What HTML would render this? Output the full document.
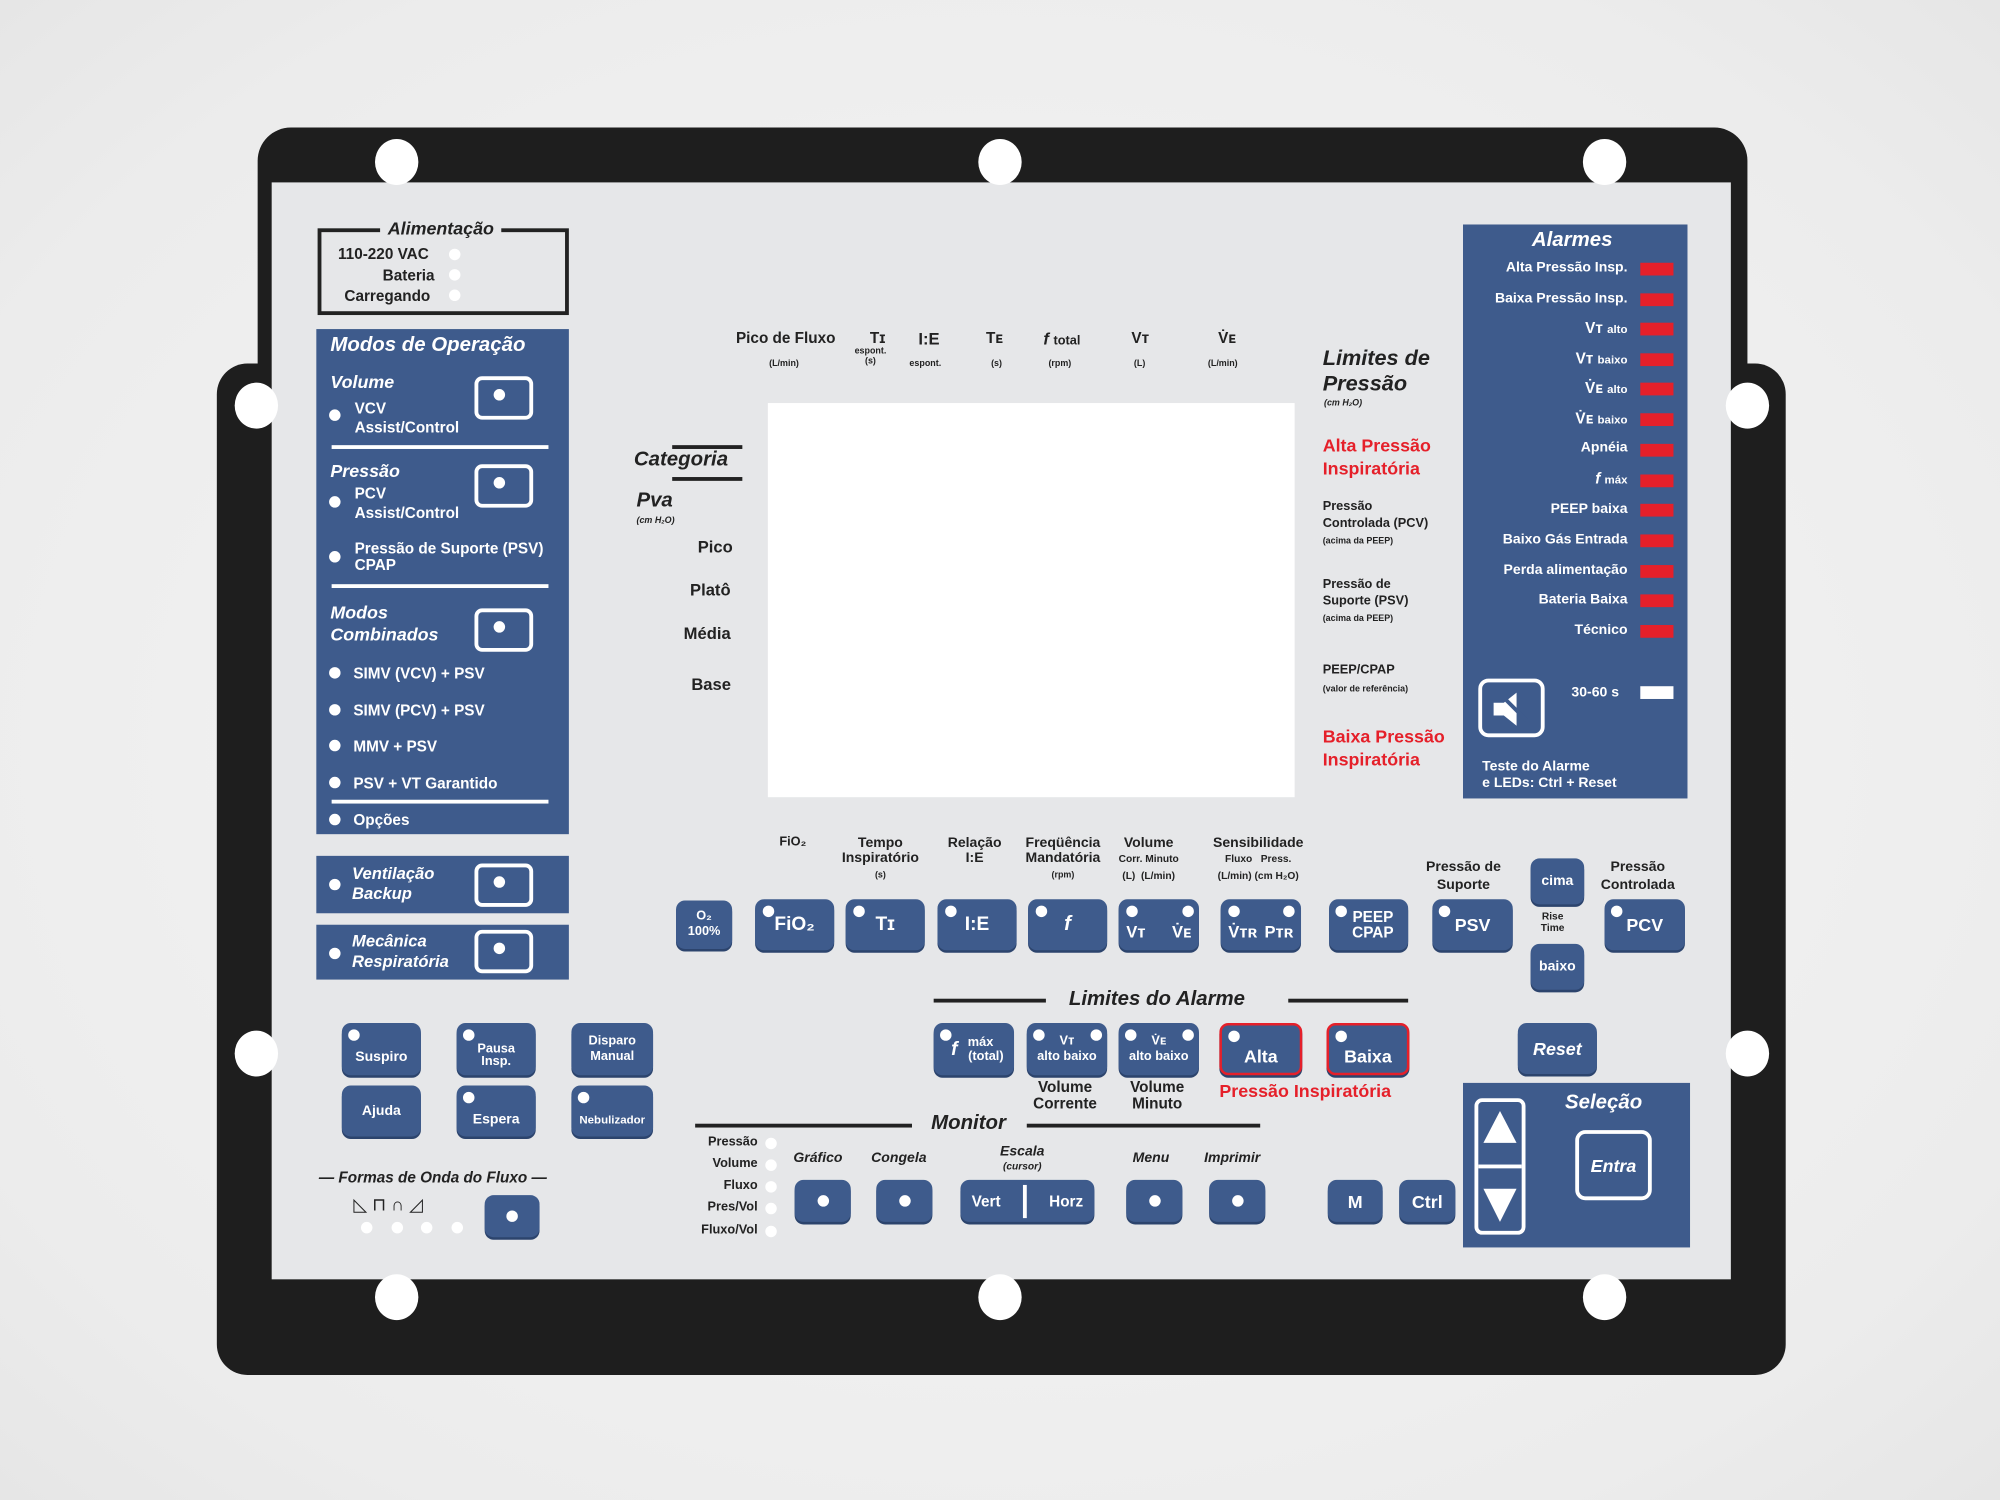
<!DOCTYPE html>
<html><head><meta charset="utf-8"><style>
html,body{margin:0;padding:0;width:2000px;height:1500px;overflow:hidden;background:radial-gradient(ellipse at center,#f7f7f7 0%,#ececec 80%,#e6e6e6 100%);}
#w{position:absolute;left:0;top:0;width:1568px;height:1176px;transform:scale(1.2755);transform-origin:0 0;font-family:"Liberation Sans",sans-serif;font-weight:bold;color:#222;}
.a{position:absolute;}
.blk{position:absolute;background:#1e1e1e;}
.hole{position:absolute;width:34px;height:36px;border-radius:50%;background:#fff;margin:-18px 0 0 -17px;}
.blue{position:absolute;background:#3e5b8c;}
.b{position:absolute;background:#3e5b8c;border-radius:7px;color:#fff;display:flex;align-items:center;justify-content:center;text-align:center;font-size:13px;line-height:12px;box-shadow:0 2px 0 #2c446d;}
.d{position:absolute;width:9px;height:9px;border-radius:50%;background:#fff;}
.sb{position:absolute;width:38px;height:28px;border:3px solid #fff;border-radius:6px;box-sizing:border-box;}
.sb::after{content:"";position:absolute;left:12px;top:7px;width:9px;height:9px;border-radius:50%;background:#fff;}
.t{position:absolute;white-space:nowrap;}
.w{color:#fff;}
.i{font-style:italic;}
.r{color:#e5202a;}
.led{position:absolute;width:26px;height:10px;background:#e5202a;}
.line{position:absolute;background:#222;height:3px;}
</style></head><body><div id="w">
<!-- frame -->
<div class="blk" style="left:202px;top:100px;width:1168px;height:300px;border-radius:26px 26px 0 0;"></div>
<div class="blk" style="left:170px;top:285px;width:1230px;height:793px;border-radius:24px;"></div>
<div class="a" style="left:213px;top:143px;width:1144px;height:860px;background:#e6e7e9;"></div>
<div class="hole" style="left:311px;top:127px"></div><div class="hole" style="left:784px;top:127px"></div><div class="hole" style="left:1258px;top:127px"></div>
<div class="hole" style="left:201px;top:318px"></div><div class="hole" style="left:1370px;top:318px"></div>
<div class="hole" style="left:201px;top:826px"></div><div class="hole" style="left:1370px;top:826px"></div>
<div class="hole" style="left:311px;top:1017px"></div><div class="hole" style="left:784px;top:1017px"></div><div class="hole" style="left:1258px;top:1017px"></div>

<!-- Alimentacao -->
<div class="a" style="left:249px;top:179px;width:197px;height:68px;border:3px solid #222;box-sizing:border-box;"></div>
<div class="t i" style="left:298px;top:171px;background:#e6e7e9;padding:0 6px;font-size:14px;">Alimentação</div>
<div class="t" style="left:265px;top:192px;font-size:12px;">110-220 VAC</div>
<div class="t" style="left:300px;top:209px;font-size:12px;">Bateria</div>
<div class="t" style="left:270px;top:225px;font-size:12px;">Carregando</div>
<div class="d" style="left:352px;top:195px"></div><div class="d" style="left:352px;top:211px"></div><div class="d" style="left:352px;top:227px"></div>

<!-- Modos -->
<div class="blue" style="left:248px;top:258px;width:198px;height:396px;"></div>
<div class="t w i" style="left:259px;top:262px;font-size:16px;">Modos de Operação</div>
<div class="t w i" style="left:259px;top:291px;font-size:14px;">Volume</div>
<div class="sb" style="left:372px;top:295px;width:46px;height:34px"></div>
<div class="d" style="left:258px;top:321px"></div>
<div class="t w" style="left:278px;top:313px;font-size:12px;line-height:15px;">VCV<br>Assist/Control</div>
<div class="a" style="left:260px;top:349px;width:170px;height:3px;background:#fff"></div>
<div class="t w i" style="left:259px;top:361px;font-size:14px;">Pressão</div>
<div class="sb" style="left:372px;top:364px;width:46px;height:34px"></div>
<div class="d" style="left:258px;top:389px"></div>
<div class="t w" style="left:278px;top:380px;font-size:12px;line-height:15px;">PCV<br>Assist/Control</div>
<div class="d" style="left:258px;top:432px"></div>
<div class="t w" style="left:278px;top:424px;font-size:12px;line-height:13px;">Pressão de Suporte (PSV)<br>CPAP</div>
<div class="a" style="left:260px;top:458px;width:170px;height:3px;background:#fff"></div>
<div class="t w i" style="left:259px;top:472px;font-size:14px;line-height:17px;">Modos<br>Combinados</div>
<div class="sb" style="left:372px;top:477px;width:46px;height:34px"></div>
<div class="d" style="left:258px;top:523px"></div><div class="t w" style="left:277px;top:521px;font-size:12px;">SIMV (VCV) + PSV</div>
<div class="d" style="left:258px;top:552px"></div><div class="t w" style="left:277px;top:550px;font-size:12px;">SIMV (PCV) + PSV</div>
<div class="d" style="left:258px;top:580px"></div><div class="t w" style="left:277px;top:578px;font-size:12px;">MMV + PSV</div>
<div class="d" style="left:258px;top:609px"></div><div class="t w" style="left:277px;top:607px;font-size:12px;">PSV + VT Garantido</div>
<div class="a" style="left:260px;top:627px;width:170px;height:3px;background:#fff"></div>
<div class="d" style="left:258px;top:638px"></div><div class="t w" style="left:277px;top:636px;font-size:12px;">Opções</div>

<div class="blue" style="left:248px;top:671px;width:198px;height:45px;"></div>
<div class="d" style="left:258px;top:689px"></div>
<div class="t w i" style="left:276px;top:677px;font-size:13px;line-height:16px;">Ventilação<br>Backup</div>
<div class="sb" style="left:372px;top:677px;width:46px;height:34px"></div>
<div class="blue" style="left:248px;top:725px;width:198px;height:43px;"></div>
<div class="d" style="left:258px;top:743px"></div>
<div class="t w i" style="left:276px;top:730px;font-size:13px;line-height:16px;">Mecânica<br>Respiratória</div>
<div class="sb" style="left:372px;top:729px;width:46px;height:34px"></div>

<!-- screen header -->
<div class="t" style="left:577px;top:258px;font-size:12px;">Pico de Fluxo</div>
<div class="t" style="left:603px;top:282px;font-size:7px;">(L/min)</div>
<div class="t" style="left:682px;top:258px;font-size:12px;">Tɪ</div>
<div class="t" style="left:670px;top:272px;font-size:7px;line-height:8px;text-align:center;">espont.<br>(s)</div>
<div class="t" style="left:720px;top:258px;font-size:13px;">I:E</div>
<div class="t" style="left:713px;top:282px;font-size:7px;">espont.</div>
<div class="t" style="left:773px;top:258px;font-size:12px;">Tᴇ</div>
<div class="t" style="left:777px;top:282px;font-size:7px;">(s)</div>
<div class="t i" style="left:818px;top:258px;font-size:13px;">f <span style="font-size:10px;font-style:normal">total</span></div>
<div class="t" style="left:822px;top:282px;font-size:7px;">(rpm)</div>
<div class="t" style="left:887px;top:258px;font-size:12px;">Vᴛ</div>
<div class="t" style="left:889px;top:282px;font-size:7px;">(L)</div>
<div class="t" style="left:955px;top:258px;font-size:12px;">V̇ᴇ</div>
<div class="t" style="left:947px;top:282px;font-size:7px;">(L/min)</div>
<div class="a" style="left:602px;top:316px;width:413px;height:309px;background:#fff;"></div>

<div class="line" style="left:527px;top:349px;width:55px;"></div>
<div class="t i" style="left:497px;top:352px;font-size:16px;">Categoria</div>
<div class="line" style="left:527px;top:374px;width:55px;"></div>
<div class="t i" style="left:499px;top:384px;font-size:16px;">Pva</div>
<div class="t i" style="left:499px;top:405px;font-size:7px;">(cm H₂O)</div>
<div class="t" style="left:547px;top:421px;font-size:13px;">Pico</div>
<div class="t" style="left:541px;top:455px;font-size:13px;">Platô</div>
<div class="t" style="left:536px;top:489px;font-size:13px;">Média</div>
<div class="t" style="left:542px;top:529px;font-size:13px;">Base</div>

<!-- Limites de Pressao -->
<div class="t i" style="left:1037px;top:271px;font-size:17px;line-height:20px;">Limites de<br>Pressão</div>
<div class="t i" style="left:1038px;top:313px;font-size:7px;">(cm H₂O)</div>
<div class="t r" style="left:1037px;top:340px;font-size:14px;line-height:18px;">Alta Pressão<br>Inspiratória</div>
<div class="t" style="left:1037px;top:391px;font-size:10px;line-height:13px;">Pressão<br>Controlada (PCV)<br><span style="font-size:7px">(acima da PEEP)</span></div>
<div class="t" style="left:1037px;top:452px;font-size:10px;line-height:13px;">Pressão de<br>Suporte (PSV)<br><span style="font-size:7px">(acima da PEEP)</span></div>
<div class="t" style="left:1037px;top:519px;font-size:10px;line-height:14px;">PEEP/CPAP<br><span style="font-size:7px">(valor de referência)</span></div>
<div class="t r" style="left:1037px;top:568px;font-size:14px;line-height:18px;">Baixa Pressão<br>Inspiratória</div>

<!-- Alarmes -->
<div class="blue" style="left:1147px;top:176px;width:176px;height:450px;"></div>
<div class="t w i" style="left:1201px;top:180px;font-size:16px;">Alarmes</div>
<div class="t w" style="right:292px;top:204px;font-size:11px;">Alta Pressão Insp.</div>
<div class="t w" style="right:292px;top:228px;font-size:11px;">Baixa Pressão Insp.</div>
<div class="t w" style="right:292px;top:250px;font-size:12px;">Vᴛ <span style="font-size:9px">alto</span></div>
<div class="t w" style="right:292px;top:274px;font-size:12px;">Vᴛ <span style="font-size:9px">baixo</span></div>
<div class="t w" style="right:292px;top:297px;font-size:12px;">V̇ᴇ <span style="font-size:9px">alto</span></div>
<div class="t w" style="right:292px;top:321px;font-size:12px;">V̇ᴇ <span style="font-size:9px">baixo</span></div>
<div class="t w" style="right:292px;top:345px;font-size:11px;">Apnéia</div>
<div class="t w" style="right:292px;top:368px;font-size:12px;"><i>f</i> <span style="font-size:9px">máx</span></div>
<div class="t w" style="right:292px;top:393px;font-size:11px;">PEEP baixa</div>
<div class="t w" style="right:292px;top:417px;font-size:11px;">Baixo Gás Entrada</div>
<div class="t w" style="right:292px;top:441px;font-size:11px;">Perda alimentação</div>
<div class="t w" style="right:292px;top:464px;font-size:11px;">Bateria Baixa</div>
<div class="t w" style="right:292px;top:488px;font-size:11px;">Técnico</div>
<div class="led" style="left:1286px;top:206px"></div><div class="led" style="left:1286px;top:230px"></div><div class="led" style="left:1286px;top:253px"></div><div class="led" style="left:1286px;top:277px"></div><div class="led" style="left:1286px;top:300px"></div><div class="led" style="left:1286px;top:324px"></div><div class="led" style="left:1286px;top:348px"></div><div class="led" style="left:1286px;top:372px"></div><div class="led" style="left:1286px;top:395px"></div><div class="led" style="left:1286px;top:419px"></div><div class="led" style="left:1286px;top:443px"></div><div class="led" style="left:1286px;top:466px"></div><div class="led" style="left:1286px;top:490px"></div>
<div class="a" style="left:1286px;top:538px;width:26px;height:10px;background:#fff"></div>
<div class="t w" style="left:1232px;top:537px;font-size:11px;">30-60 s</div>
<div class="a" style="left:1159px;top:532px;width:52px;height:46px;border:3px solid #fff;border-radius:8px;box-sizing:border-box;"></div>
<svg class="a" style="left:1167px;top:540px" width="38" height="32"><polygon points="4,11 12,11 22,3 22,29 12,21 4,21" fill="#fff"/><line x1="14" y1="9" x2="30" y2="25" stroke="#3e5b8c" stroke-width="3"/></svg>
<div class="t w" style="left:1162px;top:595px;font-size:11px;line-height:13px;">Teste do Alarme<br>e LEDs: Ctrl + Reset</div>

<!-- parameter labels -->
<div class="t" style="left:611px;top:655px;font-size:10px;">FiO₂</div>
<div class="t" style="left:660px;top:655px;font-size:11px;line-height:12px;text-align:center;">Tempo<br>Inspiratório<br><span style="font-size:7px">(s)</span></div>
<div class="t" style="left:743px;top:655px;font-size:11px;line-height:12px;text-align:center;">Relação<br>I:E</div>
<div class="t" style="left:804px;top:655px;font-size:11px;line-height:12px;text-align:center;">Freqüência<br>Mandatória<br><span style="font-size:7px">(rpm)</span></div>
<div class="t" style="left:877px;top:655px;font-size:11px;line-height:12px;text-align:center;">Volume<br><span style="font-size:8px">Corr. Minuto<br>(L) &nbsp;(L/min)</span></div>
<div class="t" style="left:951px;top:655px;font-size:11px;line-height:12px;text-align:center;">Sensibilidade<br><span style="font-size:8px">Fluxo &nbsp; Press.<br>(L/min) (cm H₂O)</span></div>
<div class="t" style="left:1118px;top:673px;font-size:11px;line-height:14px;text-align:center;">Pressão de<br>Suporte</div>
<div class="t" style="left:1255px;top:673px;font-size:11px;line-height:14px;text-align:center;">Pressão<br>Controlada</div>
<div class="t" style="left:1208px;top:714px;font-size:8px;line-height:9px;text-align:center;">Rise<br>Time</div>

<div class="b" style="left:530px;top:706px;width:44px;height:38px;font-size:10px;line-height:12px;">O₂<br>100%</div>
<div class="b" style="left:592px;top:705px;width:62px;height:40px;font-size:15px;">FiO₂</div>
<div class="b" style="left:663px;top:705px;width:62px;height:40px;font-size:15px;">Tɪ</div>
<div class="b" style="left:735px;top:705px;width:62px;height:40px;font-size:15px;">I:E</div>
<div class="b" style="left:806px;top:705px;width:62px;height:40px;font-size:16px;font-style:italic;">f</div>
<div class="b" style="left:877px;top:705px;width:63px;height:40px;font-size:13px;justify-content:space-between;padding:12px 6px 0;box-sizing:border-box;"><span>Vᴛ</span><span>V̇ᴇ</span></div>
<div class="b" style="left:957px;top:705px;width:63px;height:40px;font-size:13px;justify-content:space-between;padding:12px 6px 0;box-sizing:border-box;"><span>V̇ᴛʀ</span><span>Pᴛʀ</span></div>
<div class="b" style="left:1042px;top:705px;width:62px;height:40px;font-size:12px;">&nbsp;&nbsp;PEEP<br>&nbsp;&nbsp;CPAP</div>
<div class="b" style="left:1123px;top:705px;width:63px;height:40px;font-size:14px;">PSV</div>
<div class="b" style="left:1200px;top:673px;width:42px;height:36px;font-size:11px;">cima</div>
<div class="b" style="left:1200px;top:740px;width:42px;height:36px;font-size:11px;">baixo</div>
<div class="b" style="left:1258px;top:705px;width:63px;height:40px;font-size:14px;">PCV</div>
<div class="d" style="left:598px;top:710px"></div><div class="d" style="left:669px;top:710px"></div><div class="d" style="left:741px;top:710px"></div><div class="d" style="left:812px;top:710px"></div><div class="d" style="left:883px;top:710px"></div><div class="d" style="left:927px;top:710px"></div><div class="d" style="left:963px;top:710px"></div><div class="d" style="left:1006px;top:710px"></div><div class="d" style="left:1047px;top:710px"></div><div class="d" style="left:1128px;top:710px"></div><div class="d" style="left:1263px;top:710px"></div>

<!-- Limites do Alarme -->
<div class="line" style="left:732px;top:783px;width:88px;"></div>
<div class="t i" style="left:838px;top:775px;font-size:16px;font-weight:normal;color:#222;"><b>Limites do Alarme</b></div>
<div class="line" style="left:1010px;top:783px;width:94px;"></div>
<div class="b" style="left:732px;top:802px;width:63px;height:41px;font-size:10px;line-height:11px;">&nbsp;&nbsp;<i style="font-size:15px">f</i> máx<br>&nbsp;&nbsp;&nbsp;(total)</div>
<div class="b" style="left:805px;top:802px;width:63px;height:41px;font-size:10px;line-height:12px;">Vᴛ<br>alto baixo</div>
<div class="b" style="left:877px;top:802px;width:63px;height:41px;font-size:10px;line-height:12px;">V̇ᴇ<br>alto baixo</div>
<div class="b" style="left:956px;top:802px;width:65px;height:41px;font-size:14px;border:2px solid #e5202a;box-sizing:border-box;padding-top:10px;">Alta</div>
<div class="b" style="left:1040px;top:802px;width:65px;height:41px;font-size:14px;border:2px solid #e5202a;box-sizing:border-box;padding-top:10px;">Baixa</div>
<div class="b i" style="left:1190px;top:802px;width:62px;height:40px;font-size:14px;">Reset</div>
<div class="d" style="left:737px;top:807px"></div><div class="d" style="left:810px;top:807px"></div><div class="d" style="left:855px;top:807px"></div><div class="d" style="left:882px;top:807px"></div><div class="d" style="left:927px;top:807px"></div><div class="d" style="left:963px;top:808px"></div><div class="d" style="left:1047px;top:808px"></div>
<div class="t" style="left:810px;top:846px;font-size:12px;line-height:13px;text-align:center;">Volume<br>Corrente</div>
<div class="t" style="left:886px;top:846px;font-size:12px;line-height:13px;text-align:center;">Volume<br>Minuto</div>
<div class="t r" style="left:956px;top:847px;font-size:14px;">Pressão Inspiratória</div>

<!-- Selecao -->
<div class="blue" style="left:1147px;top:849px;width:178px;height:129px;"></div>
<div class="t w i" style="left:1227px;top:856px;font-size:16px;">Seleção</div>
<div class="a" style="left:1156px;top:861px;width:40px;height:107px;border:3px solid #fff;border-radius:6px;box-sizing:border-box;"></div>
<div class="a" style="left:1159px;top:913px;width:34px;height:3px;background:#fff;"></div>
<svg class="a" style="left:1160px;top:868px" width="32" height="96"><polygon points="16,3 29,28 3,28" fill="#fff"/><polygon points="3,64 29,64 16,90" fill="#fff"/></svg>
<div class="a w i" style="left:1235px;top:886px;width:60px;height:55px;border:3px solid #fff;border-radius:8px;box-sizing:border-box;display:flex;align-items:center;justify-content:center;font-size:14px;">Entra</div>

<!-- left bottom buttons -->
<div class="b" style="left:268px;top:802px;width:62px;height:41px;font-size:11px;padding-top:12px;box-sizing:border-box;">Suspiro</div>
<div class="b" style="left:358px;top:802px;width:62px;height:41px;font-size:10px;line-height:10px;padding-top:10px;box-sizing:border-box;">Pausa<br>Insp.</div>
<div class="b" style="left:448px;top:802px;width:64px;height:41px;font-size:10px;line-height:12px;">Disparo<br>Manual</div>
<div class="b" style="left:268px;top:851px;width:62px;height:40px;font-size:11px;">Ajuda</div>
<div class="b" style="left:358px;top:851px;width:62px;height:40px;font-size:11px;padding-top:14px;box-sizing:border-box;">Espera</div>
<div class="b" style="left:448px;top:851px;width:64px;height:40px;font-size:9px;padding-top:14px;box-sizing:border-box;">Nebulizador</div>
<div class="d" style="left:273px;top:807px"></div><div class="d" style="left:363px;top:807px"></div><div class="d" style="left:363px;top:856px"></div><div class="d" style="left:453px;top:856px"></div>

<div class="t i" style="left:250px;top:916px;font-size:12px;">— Formas de Onda do Fluxo —</div>
<div class="t" style="left:277px;top:936px;font-size:14px;letter-spacing:4px;font-weight:normal;">◺⊓∩◿</div>
<div class="d" style="left:283px;top:958px"></div><div class="d" style="left:307px;top:958px"></div><div class="d" style="left:330px;top:958px"></div><div class="d" style="left:354px;top:958px"></div>
<div class="b" style="left:380px;top:937px;width:43px;height:33px;"><span class="d" style="position:static;display:block"></span></div>

<!-- Monitor -->
<div class="line" style="left:545px;top:881px;width:170px;"></div>
<div class="t i" style="left:730px;top:872px;font-size:16px;">Monitor</div>
<div class="line" style="left:805px;top:881px;width:183px;"></div>
<div class="t" style="right:974px;top:890px;font-size:10px;">Pressão</div>
<div class="t" style="right:974px;top:907px;font-size:10px;">Volume</div>
<div class="t" style="right:974px;top:924px;font-size:10px;">Fluxo</div>
<div class="t" style="right:974px;top:941px;font-size:10px;">Pres/Vol</div>
<div class="t" style="right:974px;top:959px;font-size:10px;">Fluxo/Vol</div>
<div class="d" style="left:600px;top:892px"></div><div class="d" style="left:600px;top:909px"></div><div class="d" style="left:600px;top:926px"></div><div class="d" style="left:600px;top:943px"></div><div class="d" style="left:600px;top:961px"></div>
<div class="t i" style="left:622px;top:902px;font-size:11px;">Gráfico</div>
<div class="t i" style="left:683px;top:902px;font-size:11px;">Congela</div>
<div class="t i" style="left:784px;top:898px;font-size:11px;line-height:11px;text-align:center;">Escala<br><span style="font-size:8px">(cursor)</span></div>
<div class="t i" style="left:888px;top:902px;font-size:11px;">Menu</div>
<div class="t i" style="left:944px;top:902px;font-size:11px;">Imprimir</div>
<div class="b" style="left:623px;top:925px;width:44px;height:33px;"><span class="d" style="position:static;display:block"></span></div>
<div class="b" style="left:687px;top:925px;width:44px;height:33px;"><span class="d" style="position:static;display:block"></span></div>
<div class="b" style="left:753px;top:925px;width:105px;height:33px;font-size:12px;justify-content:space-around;">Vert<span style="width:3px;height:26px;background:#fff;display:block"></span>Horz</div>
<div class="b" style="left:883px;top:925px;width:44px;height:33px;"><span class="d" style="position:static;display:block"></span></div>
<div class="b" style="left:948px;top:925px;width:44px;height:33px;"><span class="d" style="position:static;display:block"></span></div>
<div class="b" style="left:1041px;top:925px;width:43px;height:33px;font-size:14px;">M</div>
<div class="b" style="left:1097px;top:925px;width:44px;height:33px;font-size:14px;">Ctrl</div>
</div></body></html>
